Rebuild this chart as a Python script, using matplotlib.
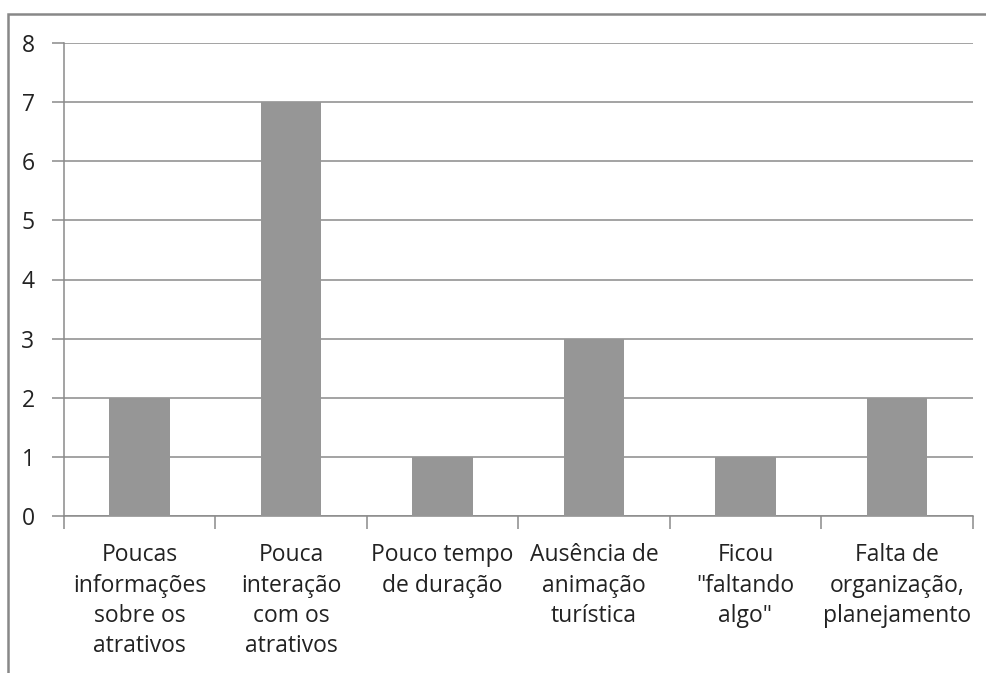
import matplotlib
matplotlib.use("Agg")
import matplotlib.pyplot as plt
from matplotlib.lines import Line2D
import numpy as np

categories = [
    "Poucas\ninformações\nsobre os\natrativos",
    "Pouca\ninteração\ncom os\natrativos",
    "Pouco tempo\nde duração",
    "Ausência de\nanimação\nturística",
    "Ficou\n\"faltando\nalgo\"",
    "Falta de\norganização,\nplanejamento",
]
counts = [2, 7, 1, 3, 1, 2]
y_ticks = list(range(0, 9))

W, H, DPI = 987, 673, 100
plt.rcParams['font.family'] = ['Open Sans', 'DejaVu Sans']

fig = plt.figure(figsize=(W / DPI, H / DPI), dpi=DPI)
fig.patch.set_facecolor("white")

# chart frame, cut off at the right and bottom edges
fx = 8.5 / W
fy = 1 - 13.5 / H
fig.add_artist(Line2D([fx, fx, 1.01], [-0.01, fy, fy], transform=fig.transFigure,
                      color="#888888", lw=1.8, solid_joinstyle="miter"))

left, right = 63.7 / W, 972.7 / W
bottom, top = 1 - 515.7 / H, 1 - 43.3 / H
ax = fig.add_axes([left, bottom, right - left, top - bottom])

x = np.arange(len(categories))
ax.bar(x, counts, width=0.4, color="#969696", zorder=3)

ax.set_xlim(-0.5, len(categories) - 0.5)
ax.set_ylim(0, 8)
ax.set_yticks(y_ticks)
ax.yaxis.grid(True, color="#8a8a8a", lw=1.1, zorder=1)
ax.set_axisbelow(True)

# category boundaries carry the ticks, labels sit on the centres
ax.set_xticks(np.arange(-0.5, len(categories)), minor=False)
ax.set_xticklabels([])
ax.set_xticks(x, minor=True)
ax.set_xticklabels(categories, minor=True, fontsize=16.5, color="#222222",
                   linespacing=1.35)
ax.tick_params(axis="x", which="minor", length=0, pad=20)
ax.tick_params(axis="x", which="major", length=9, width=1.1, color="#8a8a8a",
               direction="out")
ax.tick_params(axis="y", length=9, width=1.1, color="#8a8a8a", pad=12,
               labelsize=16.5, labelcolor="#222222")

for side in ("top", "right"):
    ax.spines[side].set_visible(False)
for side in ("left", "bottom"):
    ax.spines[side].set_color("#8a8a8a")
    ax.spines[side].set_linewidth(1.1)

fig.savefig("out.png", dpi=DPI)
